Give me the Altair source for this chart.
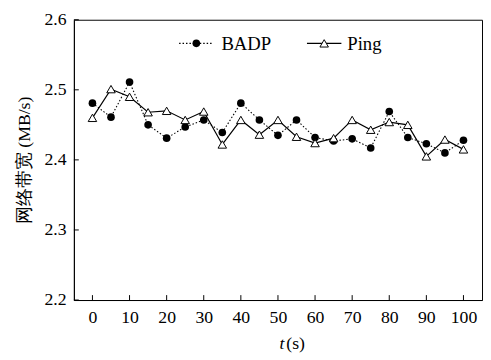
import altair as alt
import pandas as pd

# ---- data ----
t_values = list(range(0, 101, 5))
badp = [2.481, 2.461, 2.511, 2.450, 2.431, 2.447, 2.457, 2.439, 2.481, 2.457,
        2.435, 2.457, 2.432, 2.427, 2.430, 2.417, 2.469, 2.432, 2.423, 2.410, 2.428]
ping = [2.460, 2.501, 2.490, 2.468, 2.470, 2.457, 2.469, 2.422, 2.457, 2.436,
        2.457, 2.433, 2.424, 2.431, 2.457, 2.443, 2.454, 2.450, 2.405, 2.429, 2.415]
x_ticks = list(range(0, 101, 10))
y_ticks = [2.2, 2.3, 2.4, 2.5, 2.6]
series_names = ["BADP", "Ping"]
y_title = "网络带宽 (MB/s)"

W, H = 415, 285
FONT = "Liberation Serif"

df_b = pd.DataFrame({"t": t_values, "v": badp})
df_p = pd.DataFrame({"t": t_values, "v": ping})
df_xt = pd.DataFrame({"t": x_ticks})
df_yt = pd.DataFrame({"v": y_ticks})

xs = alt.Scale(domain=[-5, 105], nice=False, zero=False)
ys = alt.Scale(domain=[2.2, 2.6], nice=False, zero=False)

x_axis = alt.Axis(values=x_ticks, tickSize=0, labelPadding=9, title=None, grid=False,
                  domainColor="black", domainWidth=1, labelFontSize=18, labelFont=FONT,
                  labelColor="black", labelFlush=False)
y_axis = alt.Axis(values=y_ticks, format=".1f", tickSize=0, labelPadding=8, title=y_title,
                  titleFontSize=18, titleFont=FONT, titleFontWeight="normal", titleColor="black",
                  titlePadding=11, grid=False, domainColor="black", domainWidth=1,
                  labelFontSize=18, labelFont=FONT, labelColor="black", labelFlush=False)

X = alt.X("t:Q", scale=xs, axis=x_axis)
Y = alt.Y("v:Q", scale=ys, axis=y_axis)

line_b = alt.Chart(df_b).mark_line(color="black", strokeWidth=1.1, strokeDash=[1.5, 2]).encode(x=X, y=Y)
pts_b = alt.Chart(df_b).mark_point(shape="circle", filled=True, color="black", size=60, opacity=1).encode(
    x=alt.X("t:Q", scale=xs), y=alt.Y("v:Q", scale=ys))
line_p = alt.Chart(df_p).mark_line(color="black", strokeWidth=1.2).encode(
    x=alt.X("t:Q", scale=xs), y=alt.Y("v:Q", scale=ys))
pts_p = alt.Chart(df_p).mark_point(shape="triangle-up", filled=True, fill="white", stroke="black",
                                   strokeWidth=1, size=75, opacity=1).encode(
    x=alt.X("t:Q", scale=xs), y=alt.Y("v:Q", scale=ys))

# inward ticks
xt = alt.Chart(df_xt).mark_rule(color="black", strokeWidth=1).encode(
    x=alt.X("t:Q", scale=xs), y=alt.value(H), y2=alt.value(H - 5))
yt = alt.Chart(df_yt).mark_rule(color="black", strokeWidth=1).encode(
    y=alt.Y("v:Q", scale=ys), x=alt.value(0), x2=alt.value(5))

# legend (inside plot, top)
LY = 24
leg_b_line = alt.Chart(pd.DataFrame({"a": [0]})).mark_rule(color="black", strokeWidth=1.1, strokeDash=[1.5, 2]).encode(
    x=alt.value(107), x2=alt.value(142), y=alt.value(LY))
leg_b_pt = alt.Chart(pd.DataFrame({"a": [0]})).mark_point(shape="circle", filled=True, color="black", size=60, opacity=1).encode(
    x=alt.value(124.5), y=alt.value(LY))
leg_b_txt = alt.Chart(pd.DataFrame({"s": [series_names[0]]})).mark_text(
    align="left", baseline="middle", font=FONT, fontSize=19, color="black").encode(
    x=alt.value(150), y=alt.value(LY + 1), text="s:N")
leg_p_line = alt.Chart(pd.DataFrame({"a": [0]})).mark_rule(color="black", strokeWidth=1.2).encode(
    x=alt.value(237), x2=alt.value(272), y=alt.value(LY))
leg_p_pt = alt.Chart(pd.DataFrame({"a": [0]})).mark_point(shape="triangle-up", filled=True, fill="white", stroke="black",
                                                          strokeWidth=1, size=75, opacity=1).encode(
    x=alt.value(254.5), y=alt.value(LY))
leg_p_txt = alt.Chart(pd.DataFrame({"s": [series_names[1]]})).mark_text(
    align="left", baseline="middle", font=FONT, fontSize=19, color="black").encode(
    x=alt.value(278), y=alt.value(LY + 1), text="s:N")

# x-axis title "t (s)" with italic t
xt_t = alt.Chart(pd.DataFrame({"s": ["t"]})).mark_text(
    align="left", baseline="alphabetic", font=FONT, fontSize=18, fontStyle="italic", color="black").encode(
    x=alt.value(209), y=alt.value(H + 50), text="s:N")
xt_s = alt.Chart(pd.DataFrame({"s": ["(s)"]})).mark_text(
    align="left", baseline="alphabetic", font=FONT, fontSize=18, color="black").encode(
    x=alt.value(216), y=alt.value(H + 50), text="s:N")

chart = alt.layer(line_b, line_p, pts_b, pts_p, xt, yt,
                  leg_b_line, leg_b_pt, leg_b_txt, leg_p_line, leg_p_pt, leg_p_txt,
                  xt_t, xt_s).properties(
    width=W, height=H,
    autosize=alt.AutoSizeParams(type="none"),
    padding={"left": 67, "top": 9, "right": 1, "bottom": 56},
    background="white",
).configure_view(stroke="black", strokeWidth=1)

chart.save("out.html", embed_options={"renderer": "svg", "actions": False})
